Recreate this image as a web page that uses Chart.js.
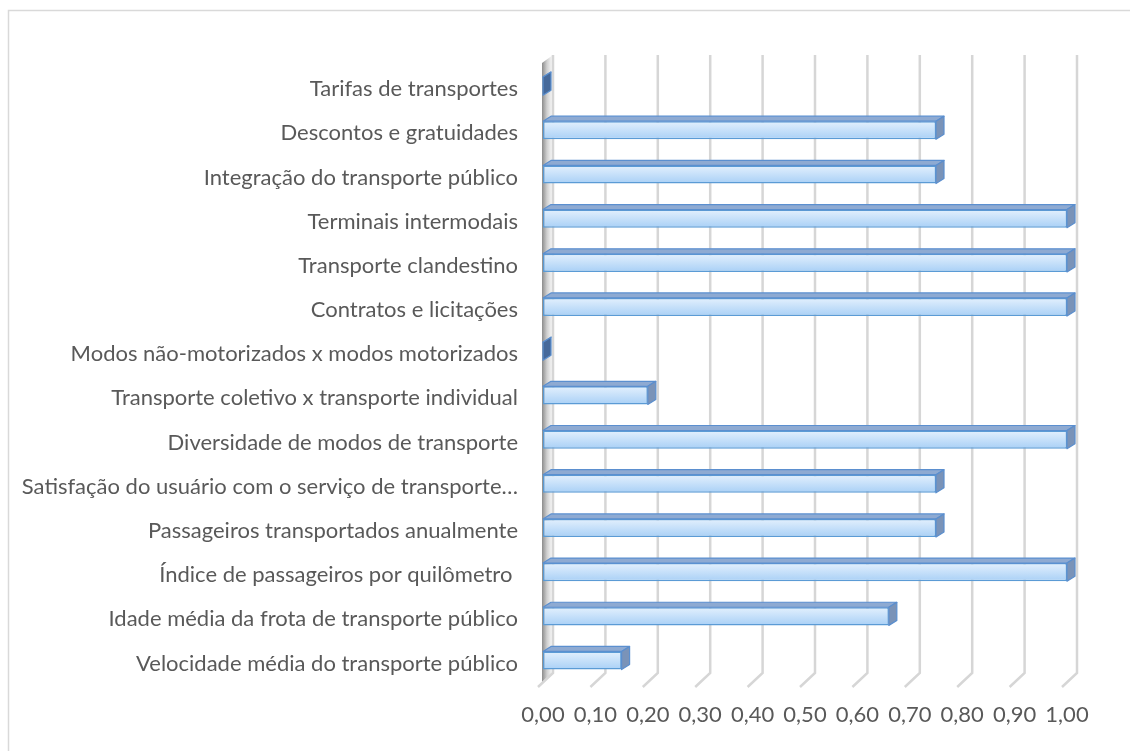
<!DOCTYPE html>
<html>
<head>
<meta charset="utf-8">
<script src="https://cdn.jsdelivr.net/npm/chart.js@4.4.1/dist/chart.umd.min.js"></script>
<style>
  html, body { margin: 0; padding: 0; background: #ffffff; }
  #wrap { width: 1130px; height: 751px; position: relative; }
</style>
</head>
<body>
<div id="wrap"><canvas id="c" width="1130" height="751"></canvas></div>
<script>
const categories = [
  "Tarifas de transportes",
  "Descontos e gratuidades",
  "Integração do transporte público",
  "Terminais intermodais",
  "Transporte clandestino",
  "Contratos e licitações",
  "Modos não-motorizados x modos motorizados",
  "Transporte coletivo x transporte individual",
  "Diversidade de modos de transporte",
  "Satisfação do usuário com o serviço de transporte…",
  "Passageiros transportados anualmente",
  "Índice de passageiros por quilômetro ",
  "Idade média da frota de transporte público",
  "Velocidade média do transporte público"
];
const values = [0, 0.75, 0.75, 1.00, 1.00, 1.00, 0, 0.20, 1.00, 0.75, 0.75, 1.00, 0.66, 0.15];
const xTickValues = [0, 0.1, 0.2, 0.3, 0.4, 0.5, 0.6, 0.7, 0.8, 0.9, 1.0];

const FONT = "Lato";
const DX = 8, DY = 5;        // bar depth
const GDX = 10, GDY = 8;     // back wall offset

const threeD = {
  id: 'threeD',
  beforeDraw(chart) {
    const ctx = chart.ctx;
    ctx.save();
    ctx.strokeStyle = '#d9d9d9';
    ctx.lineWidth = 1.5;
    ctx.strokeRect(8.5, 10.5, 1140, 760);
    ctx.restore();
  },
  beforeDatasetsDraw(chart) {
    const ctx = chart.ctx;
    const xs = chart.scales.x;
    const topY = 55, backBottom = 673, frontBottom = 687;
    ctx.save();
    const x0 = xs.getPixelForValue(0);
    const g = ctx.createLinearGradient(x0 - 1, 0, x0 + GDX, 0);
    g.addColorStop(0, '#8c8c8c');
    g.addColorStop(0.45, '#cfcfcf');
    g.addColorStop(1, '#ffffff');
    ctx.fillStyle = g;
    ctx.beginPath();
    ctx.moveTo(x0 - 1, topY + GDY);
    ctx.lineTo(x0 + GDX, topY);
    ctx.lineTo(x0 + GDX, backBottom);
    ctx.lineTo(x0 - 1, backBottom + GDY + 2);
    ctx.closePath();
    ctx.fill();
    ctx.strokeStyle = '#d6d6d6';
    ctx.lineWidth = 2.5;
    xTickValues.forEach(v => {
      const x = xs.getPixelForValue(v);
      ctx.beginPath();
      ctx.moveTo(x + GDX, topY);
      ctx.lineTo(x + GDX, backBottom);
      ctx.lineTo(x - 5, frontBottom);
      ctx.stroke();
    });
    ctx.restore();
  },
  afterDatasetsDraw(chart) {
    const ctx = chart.ctx;
    const meta = chart.getDatasetMeta(0);
    ctx.save();
    ctx.lineJoin = 'round';
    meta.data.forEach(bar => {
      const p = bar.getProps(['x', 'y', 'base', 'height'], true);
      const top = p.y - p.height / 2, bottom = p.y + p.height / 2;
      const left = p.base, right = p.x;
      ctx.beginPath();
      ctx.moveTo(left, top);
      ctx.lineTo(right, top);
      ctx.lineTo(right + DX, top - DY);
      ctx.lineTo(left + DX, top - DY);
      ctx.closePath();
      ctx.fillStyle = '#8eaad2';
      ctx.fill();
      ctx.strokeStyle = '#5b8fcf';
      ctx.lineWidth = 1.2;
      ctx.stroke();
      ctx.beginPath();
      ctx.moveTo(right, top);
      ctx.lineTo(right + DX, top - DY);
      ctx.lineTo(right + DX, bottom - DY);
      ctx.lineTo(right, bottom);
      ctx.closePath();
      ctx.fillStyle = right - left < 1 ? '#46699a' : '#7a93b8';
      ctx.fill();
      ctx.strokeStyle = '#5b8fcf';
      ctx.stroke();
    });
    ctx.restore();
  }
};

new Chart(document.getElementById('c'), {
  type: 'bar',
  data: {
    labels: categories,
    datasets: [{
      data: values,
      backgroundColor: (c) => {
        const chart = c.chart;
        const ys = chart.scales && chart.scales.y;
        if (!ys || c.dataIndex === undefined) return '#c6e0f9';
        const yc = ys.getPixelForValue(c.dataIndex);
        if (!isFinite(yc)) return '#c6e0f9';
        const g = chart.ctx.createLinearGradient(0, yc - 9, 0, yc + 9);
        g.addColorStop(0, '#e3f0fd');
        g.addColorStop(1, '#a9d0f6');
        return g;
      },
      borderColor: '#5b9bd5',
      borderWidth: 1.5,
      borderSkipped: false,
      barPercentage: 0.41,
      categoryPercentage: 1.0
    }]
  },
  options: {
    indexAxis: 'y',
    responsive: false,
    animation: false,
    devicePixelRatio: 1,
    layout: { padding: { top: 64, right: 63, left: 0, bottom: 0 } },
    plugins: { legend: { display: false }, tooltip: { enabled: false } },
    scales: {
      x: {
        min: 0, max: 1,
        afterFit(s) { s.height = 68.4; },
        afterBuildTicks(s) { s.ticks = xTickValues.map(v => ({ value: v })); },
        grid: { display: false, drawTicks: false },
        border: { display: false },
        ticks: {
          padding: 19,
          color: '#595959',
          font: { family: FONT, size: 22 },
          callback: (v) => Number(v).toFixed(2).replace('.', ',')
        }
      },
      y: {
        afterFit(s) { s.width = 543; },
        grid: { display: false, drawTicks: false },
        border: { display: false },
        ticks: {
          padding: 25,
          labelOffset: 3,
          color: '#595959',
          font: { family: FONT, size: 22 },
          autoSkip: false
        }
      }
    }
  },
  plugins: [threeD]
});
</script>
</body>
</html>
